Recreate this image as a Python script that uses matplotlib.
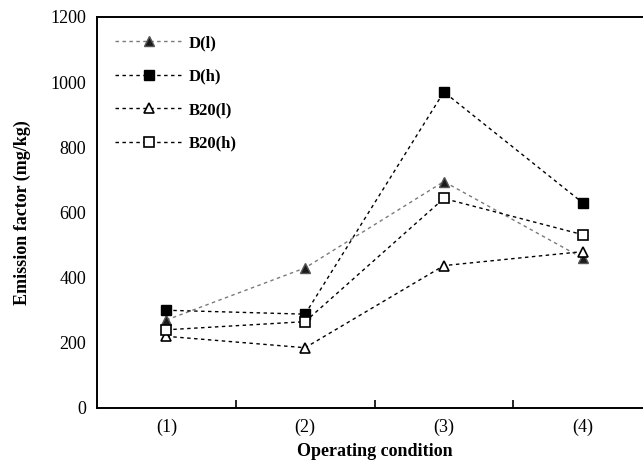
"""Emission factor by operating condition for D and B20 fuels."""

import matplotlib
matplotlib.use("Agg")
import matplotlib.pyplot as plt

conditions = ["(1)", "(2)", "(3)", "(4)"]
d_low = [270, 430, 695, 460]
d_high = [300, 288, 970, 630]
b20_low = [220, 185, 437, 480]
b20_high = [240, 265, 643, 532]

plt.rcParams["font.family"] = ["Liberation Serif", "DejaVu Serif"]


def main() -> None:
    fig = plt.figure(figsize=(6.43, 4.67), dpi=100)
    # right edge of the frame falls just outside the picture, as in the source
    ax = fig.add_axes([97 / 643, 59 / 467, 555 / 643, 391 / 467])

    x = list(range(1, len(conditions) + 1))
    dash = (0, (2.5, 2.5))

    ax.plot(x, d_low, linestyle=dash, color="#7a7a7a", linewidth=1.0,
            marker="^", markersize=7, markerfacecolor="#1a1a1a",
            markeredgecolor="#555555", label="D(l)", zorder=3)
    ax.plot(x, d_high, linestyle=dash, color="black", linewidth=1.0,
            marker="s", markersize=6.5, markerfacecolor="black",
            markeredgecolor="black", label="D(h)", zorder=3)
    ax.plot(x, b20_low, linestyle=dash, color="black", linewidth=1.0,
            marker="^", markersize=7.5, markerfacecolor="white",
            markeredgecolor="black", markeredgewidth=1.2, label="B20(l)", zorder=4)
    ax.plot(x, b20_high, linestyle=dash, color="black", linewidth=1.0,
            marker="s", markersize=6.5, markerfacecolor="white",
            markeredgecolor="black", markeredgewidth=1.2, label="B20(h)", zorder=4)

    ax.set_xlim(0.5, 4.5)
    ax.set_ylim(0, 1200)
    ax.set_yticks(range(0, 1201, 200))
    ax.set_xticks(x)
    ax.set_xticklabels(conditions)
    ax.set_xticks([1.5, 2.5, 3.5], minor=True)
    ax.tick_params(axis="x", which="major", length=0, pad=8, labelsize=13)
    ax.tick_params(axis="x", which="minor", direction="in", length=6, width=1.2)
    ax.tick_params(axis="y", length=0, pad=8, labelsize=13)

    for side in ["left", "bottom", "top", "right"]:
        ax.spines[side].set_linewidth(1.4)

    ax.set_xlabel("Operating condition", fontsize=13, fontweight="bold", labelpad=5)
    ax.set_ylabel("Emission factor (mg/kg)", fontsize=13, fontweight="bold", labelpad=14)

    leg = ax.legend(loc="upper left", bbox_to_anchor=(0.0, 1.0), frameon=False,
                    handlelength=4.0, handletextpad=0.4, labelspacing=1.05,
                    borderaxespad=0.7, prop={"weight": "bold", "size": 12})
    for h in leg.legend_handles:
        h.set_linestyle((0, (2.5, 2.5)))

    fig.savefig("out.png", dpi=100)
    plt.close(fig)


if __name__ == "__main__":
    main()
